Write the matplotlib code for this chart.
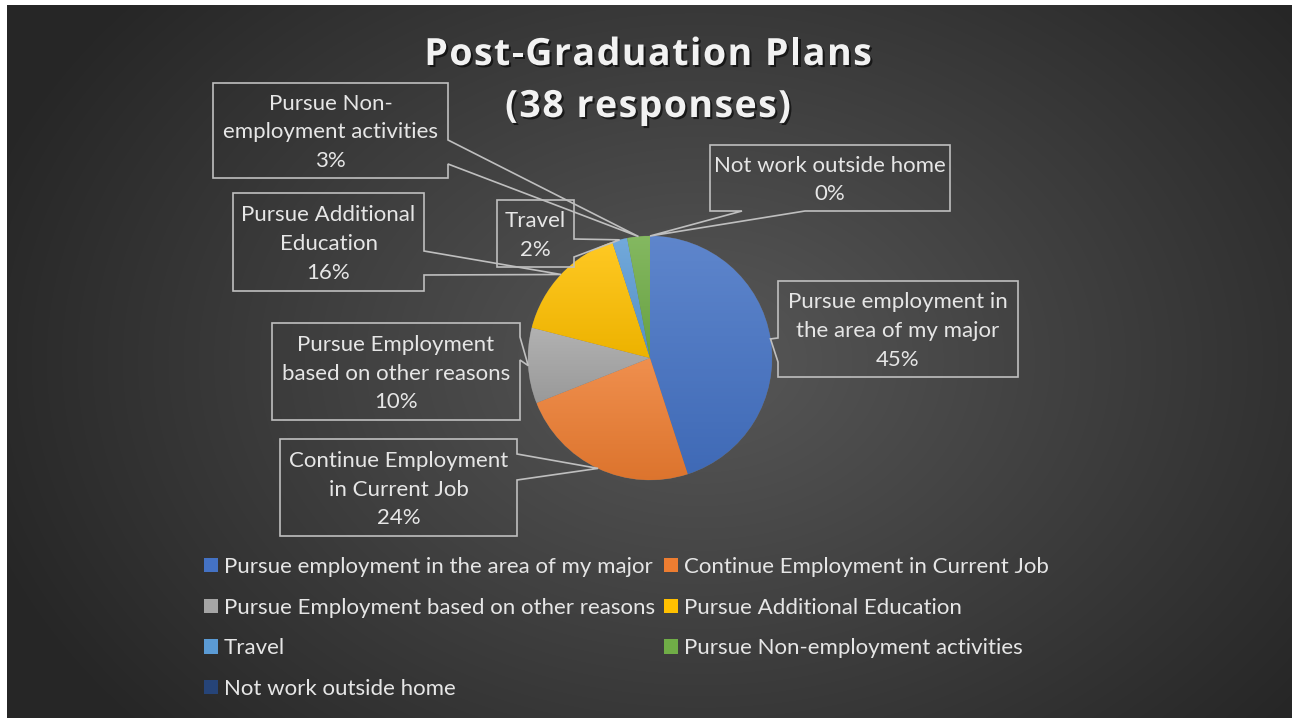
import numpy as np
import matplotlib
matplotlib.use("Agg")
import matplotlib.pyplot as plt
from matplotlib.patches import Polygon, Patch
import matplotlib.patheffects as pe
from matplotlib.colors import to_rgb
from matplotlib.font_manager import FontProperties

# ---------------- data ----------------
categories = [
    "Pursue employment in the area of my major",
    "Continue Employment in Current Job",
    "Pursue Employment based on other reasons",
    "Pursue Additional Education",
    "Travel",
    "Pursue Non-employment activities",
    "Not work outside home",
]
values = [45, 24, 10, 16, 2, 3, 0]
label_texts = [
    "Pursue employment in\nthe area of my major",
    "Continue Employment\nin Current Job",
    "Pursue Employment\nbased on other reasons",
    "Pursue Additional\nEducation",
    "Travel",
    "Pursue Non-\nemployment activities",
    "Not work outside home",
]
title_lines = ["Post-Graduation Plans", "(38 responses)"]

colors = ["#4472C4", "#ED7D31", "#A5A5A5", "#FFC000", "#5B9BD5", "#70AD47", "#264478"]

# ---------------- layout ----------------
W, H = 1292, 719
FONT = "Lato"
TXT = "#e6e6e6"
EDGE = "#bfbfbf"
FS = 16

def Y(y):
    return H - y

fig = plt.figure(figsize=(W / 100, H / 100), dpi=100, facecolor="white")

# background radial gradient
bg = fig.add_axes([0, 0, 1, 1])
bg.set_xlim(0, W); bg.set_ylim(0, H); bg.axis("off")
xx, yy = np.meshgrid(np.arange(7, W), np.arange(5, H - 1))
d = np.sqrt(((xx - 700) / 760.0) ** 2 + ((yy - 360) / 560.0) ** 2)
d = np.clip(d, 0, 1)
c0 = np.array(to_rgb("#585858")); c1 = np.array(to_rgb("#262626"))
img = c0[None, None, :] * (1 - d[..., None]) + c1[None, None, :] * d[..., None]
bg.imshow(img, extent=(7, W, Y(H - 1), Y(5)), origin="upper", aspect="auto", zorder=0)

ax = fig.add_axes([0, 0, 1, 1])
ax.set_xlim(0, W); ax.set_ylim(0, H); ax.axis("off")
ax.patch.set_alpha(0)

cx, cy, R = 650, 358, 122
wedges, _ = ax.pie(values, center=(cx, Y(cy)), radius=R, startangle=90,
                   counterclock=False, colors=colors,
                   wedgeprops=dict(linewidth=0.4, edgecolor="#6a6a6a"), frame=True)
ax.set_xlim(0, W); ax.set_ylim(0, H); ax.axis("off")

def tint(c, f):
    c = np.array(to_rgb(c)); return c + (1 - c) * f
def shade(c, f):
    c = np.array(to_rgb(c)); return c * (1 - f)

for w, col in zip(wedges, colors):
    ext = w.get_path().get_extents()
    if ext.height <= 0.5:
        continue
    top = tint(col, 0.14); bot = shade(col, 0.07)
    t = np.linspace(0, 1, 64)[:, None]
    grad = top[None, :] * (1 - t) + bot[None, :] * t
    grad = np.repeat(grad[:, None, :], 2, axis=1)
    im = ax.imshow(grad, extent=(ext.x0, ext.x1, ext.y0, ext.y1), origin="upper",
                   aspect="auto", zorder=w.get_zorder() + 0.1)
    im.set_clip_path(w)
ax.set_xlim(0, W); ax.set_ylim(0, H)

# callout boxes: (x0, y0, x1, y1), side, base a, base b  (image coords)
boxes = [
    ((778, 281, 1018, 377), "left", 338, 362),
    ((280, 439, 517, 536), "right", 454, 480),
    ((272, 323, 520, 420), "right", 337, 360),
    ((233, 193, 424, 291), "right", 251, 275),
    ((497, 200, 574, 267), "right", 239, 257),
    ((213, 83, 448, 178), "right", 140, 164),
    ((710, 145, 950, 211), "bottom", 742, 805),
]

for w, (bx, side, a, b), txt, v in zip(wedges, boxes, label_texts, values):
    mid = np.deg2rad((w.theta1 + w.theta2) / 2)
    tx = cx + R * np.cos(mid)
    ty = Y(cy) + R * np.sin(mid)
    x0, y0, x1, y1 = bx
    if side == "right":
        pts = [(x0, y0), (x1, y0), (x1, a), None, (x1, b), (x1, y1), (x0, y1)]
    elif side == "left":
        pts = [(x0, y0), (x1, y0), (x1, y1), (x0, y1), (x0, b), None, (x0, a)]
    else:
        pts = [(x0, y0), (x1, y0), (x1, y1), (b, y1), None, (a, y1), (x0, y1)]
    poly = [(tx, ty) if p is None else (p[0], Y(p[1])) for p in pts]
    ax.add_patch(Polygon(poly, closed=True, fill=False, edgecolor=EDGE,
                         linewidth=1.2, zorder=5, joinstyle="miter"))
    ax.text((x0 + x1) / 2, Y((y0 + y1) / 2 + 2), f"{txt}\n{v}%", ha="center", va="center",
            color=TXT, fontsize=FS, family=FONT, linespacing=1.56, zorder=6)

# title with letter spacing
renderer = fig.canvas.get_renderer()
tprop = FontProperties(family="Open Sans", weight="bold", size=27)
track = 1.5
for line, yc in zip(title_lines, [55, 107]):
    widths = [renderer.get_text_width_height_descent(ch, tprop, ismath=False)[0] for ch in line]
    total = sum(widths) + track * (len(line) - 1)
    x = 648 - total / 2
    for ch, wd in zip(line, widths):
        ax.text(x, Y(yc), ch, ha="left", va="center", color="#f2f2f2",
                fontproperties=tprop,
                path_effects=[pe.withSimplePatchShadow(offset=(1.5, -1.5),
                                                       shadow_rgbFace="black", alpha=0.6)],
                zorder=6)
        x += wd + track

# legend (row-wise ordering)
order = [0, 2, 4, 6, 1, 3, 5]
handles = [Patch(facecolor=colors[i], edgecolor="none") for i in order]
labels = [categories[i] for i in order]
leg = fig.legend(handles, labels, ncol=2, loc="upper left",
                 bbox_to_anchor=(195 / W, 1 - 548 / H), frameon=False,
                 prop={"family": FONT, "size": FS}, labelcolor=TXT,
                 handlelength=0.62, handleheight=0.62, handletextpad=0.28,
                 columnspacing=0.4, labelspacing=0.93, borderaxespad=0)

fig.savefig("out.png", dpi=100, facecolor="white")
